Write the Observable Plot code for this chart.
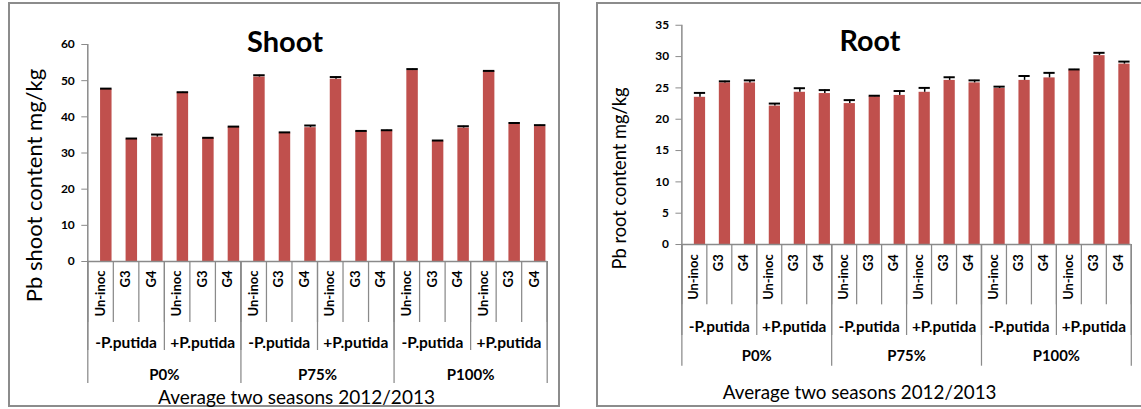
<!DOCTYPE html>
<html>
<head>
<meta charset="utf-8">
<script src="https://cdn.jsdelivr.net/npm/d3@7"></script>
<script src="https://cdn.jsdelivr.net/npm/@observablehq/plot@0.6"></script>
<style>
  html, body { margin: 0; padding: 0; background: #fff; }
  body { width: 1141px; height: 409px; position: relative; overflow: hidden; }
  .border { position: absolute; box-sizing: border-box; border: 2px solid #8c8c8c; }
  .chart { position: absolute; }
  .chart svg { overflow: visible; }
</style>
</head>
<body>
<div class="border" style="left:8px;top:2px;width:552px;height:405px;"></div>
<div class="border" style="left:596px;top:2px;width:560px;height:405px;"></div>
<div id="shoot" class="chart" style="left:9px;top:3px;"></div>
<div id="root" class="chart" style="left:597px;top:3px;"></div>
<script>
// ---- data ----
const treatments = ["Un-inoc", "G3", "G4"];
const inoculation = ["-P.putida", "+P.putida"];
const pLevels = ["P0%", "P75%", "P100%"];
const xTitle = "Average two seasons 2012/2013";

const shootTitle = "Shoot";
const shootLabel = "Pb shoot content mg/kg";
const shootTicks = [0, 10, 20, 30, 40, 50, 60];
const shootValues = [47.6, 33.8, 34.4, 46.6, 34.0, 37.1, 51.0, 35.5, 37.0, 50.4, 35.9, 36.0, 52.8, 33.2, 36.9, 52.5, 37.9, 37.3];
const shootErrors = [0.2, 0.2, 0.7, 0.2, 0.2, 0.2, 0.5, 0.2, 0.6, 0.6, 0.2, 0.3, 0.4, 0.25, 0.5, 0.2, 0.4, 0.4];

const rootTitle = "Root";
const rootLabel = "Pb root content mg/kg";
const rootTicks = [0, 5, 10, 15, 20, 25, 30, 35];
const rootValues = [23.5, 25.8, 25.8, 22.1, 24.3, 24.1, 22.5, 23.6, 23.8, 24.3, 26.2, 25.8, 24.9, 26.2, 26.6, 27.8, 30.15, 28.8];
const rootErrors = [0.7, 0.25, 0.4, 0.4, 0.65, 0.55, 0.55, 0.15, 0.7, 0.7, 0.5, 0.4, 0.3, 0.7, 0.8, 0.15, 0.45, 0.4];

// ---- helpers ----
const makeRows = (values, errors) => values.map((v, i) => ({
  i, v, e: errors[i],
  trt: treatments[i % 3],
  inoc: inoculation[Math.floor(i / 3) % 2],
  p: pLevels[Math.floor(i / 6)]
}));
const level2 = d3.range(pLevels.length * inoculation.length).map(g => ({start: g * 3, label: inoculation[g % 2]}));
const level3 = pLevels.map((label, g) => ({start: g * 6, label}));

const GRAY = "#8a8a8a";
const BAR = "#C0504D";
const FONT = "Lato, 'Open Sans', 'Noto Sans', sans-serif";

function panel(cfg) {
  const rows = makeRows(cfg.values, cfg.errors);
  const n = rows.length;
  const txt = {textAnchor: "middle", lineAnchor: "middle"};
  return Plot.plot({
    width: cfg.width,
    height: cfg.height,
    marginLeft: cfg.ml, marginRight: cfg.mr, marginTop: cfg.mt, marginBottom: cfg.mb,
    x: {domain: [0, n]},
    y: {domain: [0, d3.max(cfg.ticks)]},
    style: {fontFamily: FONT, fontSize: "12px", color: "black", background: "transparent", overflow: "visible"},
    marks: [
      Plot.rectY(rows, {x1: d => d.i + 0.5, x2: d => d.i + 0.95, y: "v", fill: BAR}),
      Plot.ruleX(rows, {x: d => d.i + 0.725, y1: "v", y2: d => d.v + d.e, stroke: "black", strokeWidth: 1.5}),
      Plot.ruleY(rows, {y: d => d.v + d.e, x1: d => d.i + 0.5, x2: d => d.i + 0.95, stroke: "black", strokeWidth: 2}),
      Plot.ruleX([0], {stroke: GRAY, strokeWidth: 1.5}),
      Plot.ruleY([0], {stroke: GRAY, strokeWidth: 1.5}),
      Plot.axisY({ticks: cfg.ticks, tickSize: 6, tickFormat: () => "", color: GRAY, label: null}),
      Plot.axisY({ticks: cfg.ticks, tickSize: 0, tickPadding: 13, fontWeight: "bold", fontSize: 12, color: "black", label: null}),
      // multi-level category axis separators
      Plot.axisX({ticks: d3.range(n + 1), tickSize: cfg.sep[0], tickFormat: () => "", color: GRAY, strokeWidth: 1.25, label: null}),
      Plot.axisX({ticks: d3.range(0, n + 1, 3), tickSize: cfg.sep[1], tickFormat: () => "", color: GRAY, strokeWidth: 1.25, label: null}),
      Plot.axisX({ticks: d3.range(0, n + 1, 6), tickSize: cfg.sep[2], tickFormat: () => "", color: GRAY, strokeWidth: 1.25, label: null}),
      // category labels
      Plot.text(rows, {x: d => d.i + 0.5, text: "trt", frameAnchor: "bottom", rotate: -90, textAnchor: "end", lineAnchor: "middle", dy: cfg.lab[0], fontWeight: "bold", fontSize: 13}),
      Plot.text(level2, {x: d => d.start + 1.5, text: "label", frameAnchor: "bottom", ...txt, dy: cfg.lab[1], fontWeight: "bold", fontSize: 15.5}),
      Plot.text(level3, {x: d => d.start + 3, text: "label", frameAnchor: "bottom", ...txt, dy: cfg.lab[2], fontWeight: "bold", fontSize: 15}),
      // titles
      Plot.text([cfg.title], {text: d => d, frameAnchor: "top", ...txt, dx: cfg.titlePos[0], dy: cfg.titlePos[1], fontSize: 29, fontWeight: "bold"}),
      Plot.text([xTitle], {text: d => d, frameAnchor: "bottom", ...txt, dx: cfg.xTitlePos[0], dy: cfg.xTitlePos[1], fontSize: 19}),
      Plot.text([cfg.label], {text: d => d, frameAnchor: "left", ...txt, rotate: -90, dx: cfg.yLabelPos[0], dy: cfg.yLabelPos[1], fontSize: cfg.yLabelSize})
    ]
  });
}

document.getElementById("shoot").append(panel({
  values: shootValues, errors: shootErrors, ticks: shootTicks, title: shootTitle, label: shootLabel,
  width: 549, height: 402, ml: 78.3, mr: 11.3, mt: 41, mb: 144,
  sep: [61, 89, 122], lab: [9, 82, 114],
  titlePos: [-32.5, -2], xTitlePos: [-21, 136], yLabelPos: [-52.8, 32.5], yLabelSize: 22
}));

document.getElementById("root").append(panel({
  values: rootValues, errors: rootErrors, ticks: rootTicks, title: rootTitle, label: rootLabel,
  width: 550, height: 404, ml: 85.3, mr: 10.3, mt: 22, mb: 160.3,
  sep: [61, 92, 123], lab: [10, 83, 113],
  titlePos: [-37, 17], xTitlePos: [-47.5, 150], yLabelPos: [-62, 44], yLabelSize: 18.5
}));
</script>
</body>
</html>
